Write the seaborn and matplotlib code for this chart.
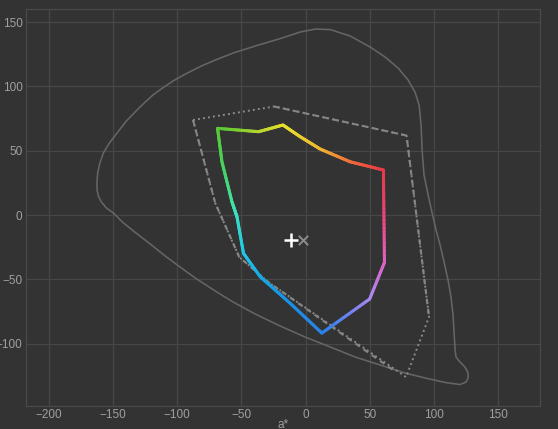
import numpy as np
import pandas as pd
import matplotlib.pyplot as plt
import seaborn as sns
from matplotlib.collections import LineCollection
from matplotlib.colors import LinearSegmentedColormap

# spectral locus outline in the a*b* plane
locus_a = [-149.7, -142.7, -134.1, -120.9, -109.3, -99.9, -85.9, -70.4, -56.4, -39.3,
           -19.8, -0.4, 19.1, 38.5, 57.9, 77.4, 92.9, 108.5, 120.1, 124.8,
           126.4, 126.4, 124.0, 120.1, 117.0, 116.3, 115.5, 114.7, 113.1, 110.8,
           107.7, 104.6, 101.5, 98.4, 95.3, 92.1, 90.6, 89.8, 88.3, 85.1,
           79.7, 71.9, 61.8, 50.2, 34.6, 19.1, 7.4, -4.3, -19.8, -39.3,
           -56.4, -70.4, -82.0, -93.7, -103.0, -111.6, -118.6, -125.0, -131.3, -139.6,
           -146.8, -152.8, -157.5, -160.2, -161.9, -162.5, -162.4, -161.4, -159.0, -155.1,
           -149.7]
locus_b = [1.6, -5.4, -12.4, -22.6, -31.9, -38.9, -49.0, -59.1, -67.7, -77.0,
           -86.3, -94.9, -102.6, -110.4, -116.6, -122.9, -126.7, -130.2, -131.8, -129.9,
           -126.7, -122.9, -118.2, -114.3, -110.4, -105.0, -91.8, -77.8, -63.8, -50.5,
           -36.5, -23.3, -11.7, 1.6, 15.6, 31.1, 50.5, 70.0, 85.5, 95.6,
           105.0, 114.3, 122.9, 130.6, 139.2, 144.2, 144.6, 142.3, 137.2, 131.4,
           126.0, 120.5, 115.5, 109.6, 104.4, 98.6, 93.6, 87.8, 81.6, 73.1,
           63.8, 56.0, 48.2, 40.4, 32.7, 25.7, 19.4, 14.8, 10.1, 5.4,
           1.6]

# display gamut (coloured outline)
gamut_a = [-68.6, -36.7, -17.7, -4.3, 11.3, 34.6, 60.5, 61.3, 49.8, 12.6,
           -12.0, -35.4, -48.4, -53.5, -57.4, -65.2, -68.6]
gamut_b = [67.4, 64.8, 70.0, 60.9, 51.3, 41.4, 35.0, -36.9, -65.3, -91.8,
           -68.7, -48.0, -29.8, -1.3, 10.3, 41.4, 67.4]

# reference gamut (dotted)
dot_a = [-87.7, -24.5, 78.5, 96.0, 78.1, -29.2, -51.7, -70.4, -87.7]
dot_b = [73.9, 84.4, 61.8, -79.3, -126.0, -52.1, -32.7, 9.3, 73.9]

# second reference gamut (dashed), drawn in two pieces
dash_a = [-87.7, -70.4, -51.7, -29.2, 68.0, -24.5, 78.5, 96.0]
dash_b = [73.9, 9.3, -32.7, -52.1, -120.5, 84.4, 61.8, -79.3]
dash_part = [0, 0, 0, 0, 0, 1, 1, 1]

# white point markers
wp_a = [-11.3]
wp_b = [-19.4]
target_a = [-1.9]
target_b = [-19.4]

bg = "#333333"
sns.set_theme(style="darkgrid", rc={
    "figure.facecolor": bg, "axes.facecolor": bg, "axes.edgecolor": "#4a4a4a",
    "grid.color": "#474747", "grid.linewidth": 0.9, "axes.linewidth": 0.9,
    "xtick.color": "#a0a0a0", "ytick.color": "#a0a0a0", "axes.labelcolor": "#a0a0a0",
})
plt.rcParams["font.family"] = ["Liberation Sans", "DejaVu Sans"]

fig = plt.figure(figsize=(5.58, 4.29), dpi=100)
ax = fig.add_axes([0.0466, 0.0536, 0.9212, 0.9254])

locus = pd.DataFrame({"a": locus_a, "b": locus_b})
sns.lineplot(data=locus, x="a", y="b", sort=False, estimator=None, color="#656565",
             linewidth=1.15, ax=ax)

dots = pd.DataFrame({"a": dot_a, "b": dot_b})
sns.lineplot(data=dots, x="a", y="b", sort=False, estimator=None, color="#8a8a8a",
             linewidth=1.4, linestyle=(0, (1, 1.6)), ax=ax)

dash = pd.DataFrame({"a": dash_a, "b": dash_b, "part": dash_part})
sns.lineplot(data=dash, x="a", y="b", units="part", sort=False, estimator=None,
             color="#858585", linewidth=1.5, linestyle=(0, (2.6, 2.2)), ax=ax)

# hue-coloured gamut outline
hue_cmap = LinearSegmentedColormap.from_list("hue", [
    (0 / 360, "#3ae0c4"), (30 / 360, "#22c6e6"), (55 / 360, "#14a8e6"),
    (80 / 360, "#1a90e4"), (98 / 360, "#2a82e8"), (115 / 360, "#7a82f0"),
    (127 / 360, "#a888f0"), (149 / 360, "#e062c0"), (170 / 360, "#e84c8a"),
    (180 / 360, "#e84478"), (210 / 360, "#e63a48"), (228 / 360, "#f06a3c"),
    (255 / 360, "#f0b030"), (284 / 360, "#e6e02a"), (300 / 360, "#b4d630"),
    (315 / 360, "#58c832"), (330 / 360, "#48d262"), (350 / 360, "#42e0a0"),
    (360 / 360, "#3ae0c4")])

segs, cols = [], []
for k in range(len(gamut_a) - 1):
    t = np.linspace(0, 1, 25)
    xs = gamut_a[k] + (gamut_a[k + 1] - gamut_a[k]) * t
    ys = gamut_b[k] + (gamut_b[k + 1] - gamut_b[k]) * t
    for j in range(len(t) - 1):
        segs.append([(xs[j], ys[j]), (xs[j + 1], ys[j + 1])])
        ang = np.degrees(np.arctan2((ys[j] + ys[j + 1]) / 2, (xs[j] + xs[j + 1]) / 2))
        cols.append(hue_cmap((ang + 180) / 360))
ax.add_collection(LineCollection(segs, colors=cols, linewidths=2.2, capstyle="round"))

sns.scatterplot(x=wp_a, y=wp_b, marker="+", s=110, color="white", linewidth=1.8, ax=ax)
sns.scatterplot(x=target_a, y=target_b, marker="x", s=45, color="#8c8c8c",
                linewidth=1.4, ax=ax)

ax.set_xlim(-217.7, 182.4)
ax.set_ylim(-148.5, 160.2)
ax.set_xticks([-200, -150, -100, -50, 0, 50, 100, 150])
ax.set_yticks([-100, -50, 0, 50, 100, 150])
ax.tick_params(labelsize=8.5, length=0, pad=2.5)
ax.set_xlabel("a*", fontsize=8.5)
ax.xaxis.set_label_coords(0.5, -0.032)
ax.set_ylabel("")
for s in ax.spines.values():
    s.set_visible(True)
    s.set_color("#4a4a4a")

fig.savefig("out.png", dpi=100, facecolor=bg)
